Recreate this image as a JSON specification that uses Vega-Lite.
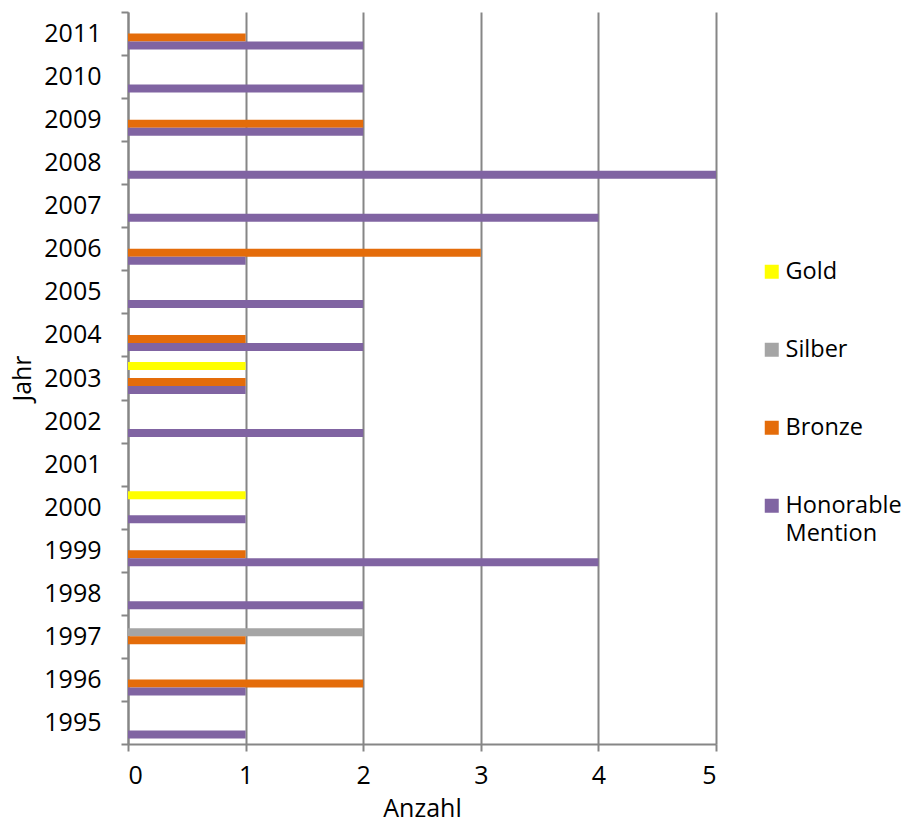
{
  "$schema": "https://vega.github.io/schema/vega-lite/v6.json",
  "width": 588,
  "height": 732,
  "autosize": {"type": "none"},
  "padding": {"left": 128, "top": 12, "right": 190, "bottom": 79},
  "background": "white",
  "config": {"font": "Open Sans", "view": {"stroke": null}},
  "data": {
    "values": [
      {"Jahr": "2011", "Serie": "Bronze", "Anzahl": 1},
      {"Jahr": "2011", "Serie": "Honorable Mention", "Anzahl": 2},
      {"Jahr": "2010", "Serie": "Honorable Mention", "Anzahl": 2},
      {"Jahr": "2009", "Serie": "Bronze", "Anzahl": 2},
      {"Jahr": "2009", "Serie": "Honorable Mention", "Anzahl": 2},
      {"Jahr": "2008", "Serie": "Honorable Mention", "Anzahl": 5},
      {"Jahr": "2007", "Serie": "Honorable Mention", "Anzahl": 4},
      {"Jahr": "2006", "Serie": "Bronze", "Anzahl": 3},
      {"Jahr": "2006", "Serie": "Honorable Mention", "Anzahl": 1},
      {"Jahr": "2005", "Serie": "Honorable Mention", "Anzahl": 2},
      {"Jahr": "2004", "Serie": "Bronze", "Anzahl": 1},
      {"Jahr": "2004", "Serie": "Honorable Mention", "Anzahl": 2},
      {"Jahr": "2003", "Serie": "Gold", "Anzahl": 1},
      {"Jahr": "2003", "Serie": "Bronze", "Anzahl": 1},
      {"Jahr": "2003", "Serie": "Honorable Mention", "Anzahl": 1},
      {"Jahr": "2002", "Serie": "Honorable Mention", "Anzahl": 2},
      {"Jahr": "2000", "Serie": "Gold", "Anzahl": 1},
      {"Jahr": "2000", "Serie": "Honorable Mention", "Anzahl": 1},
      {"Jahr": "1999", "Serie": "Bronze", "Anzahl": 1},
      {"Jahr": "1999", "Serie": "Honorable Mention", "Anzahl": 4},
      {"Jahr": "1998", "Serie": "Honorable Mention", "Anzahl": 2},
      {"Jahr": "1997", "Serie": "Silber", "Anzahl": 2},
      {"Jahr": "1997", "Serie": "Bronze", "Anzahl": 1},
      {"Jahr": "1996", "Serie": "Bronze", "Anzahl": 2},
      {"Jahr": "1996", "Serie": "Honorable Mention", "Anzahl": 1},
      {"Jahr": "1995", "Serie": "Honorable Mention", "Anzahl": 1}
    ]
  },
  "mark": {"type": "bar"},
  "encoding": {
    "y": {
      "field": "Jahr",
      "type": "ordinal",
      "scale": {
        "domain": ["2011", "2010", "2009", "2008", "2007", "2006", "2005", "2004", "2003", "2002", "2001", "2000", "1999", "1998", "1997", "1996", "1995"],
        "paddingInner": 0,
        "paddingOuter": 0
      },
      "axis": {
        "title": "Jahr",
        "titleFontSize": 25,
        "titleFontWeight": "normal",
        "titleColor": "#000000",
        "titlePadding": 8,
        "labelFontSize": 25,
        "labelColor": "#000000",
        "labelPadding": 20,
        "tickSize": 7,
        "tickBand": "extent",
        "tickColor": "#868686",
        "tickWidth": 2,
        "domainColor": "#868686",
        "domainWidth": 2,
        "grid": false
      }
    },
    "yOffset": {
      "field": "Serie",
      "type": "nominal",
      "scale": {
        "domain": ["Gold", "Silber", "Bronze", "Honorable Mention"],
        "paddingInner": 0,
        "paddingOuter": 0.69
      }
    },
    "x": {
      "field": "Anzahl",
      "type": "quantitative",
      "scale": {"domain": [0, 5], "nice": false},
      "axis": {
        "title": "Anzahl",
        "values": [0, 1, 2, 3, 4, 5],
        "titleFontSize": 25,
        "titleFontWeight": "normal",
        "titleColor": "#000000",
        "titlePadding": 8,
        "labelFontSize": 25,
        "labelColor": "#000000",
        "labelPadding": 12,
        "tickSize": 7,
        "tickColor": "#868686",
        "tickWidth": 2,
        "domainColor": "#868686",
        "domainWidth": 2,
        "grid": true,
        "gridColor": "#868686",
        "gridWidth": 2
      }
    },
    "color": {
      "field": "Serie",
      "type": "nominal",
      "scale": {
        "domain": ["Gold", "Silber", "Bronze", "Honorable Mention"],
        "range": ["#FFFF00", "#A5A5A5", "#E46C0A", "#8064A2"]
      },
      "legend": {
        "title": null,
        "orient": "none",
        "legendX": 632,
        "legendY": 248,
        "padding": 0,
        "symbolType": "square",
        "symbolSize": 196,
        "symbolStrokeWidth": 0,
        "labelFontSize": 23.5,
        "labelColor": "#000000",
        "labelOffset": 2,
        "labelLimit": 200,
        "rowPadding": 53,
        "labelExpr": "datum.label === 'Honorable Mention' ? ['Honorable', 'Mention'] : datum.label",
        "encode": {"labels": {"update": {"lineHeight": {"value": 28}}}}
      }
    }
  }
}
